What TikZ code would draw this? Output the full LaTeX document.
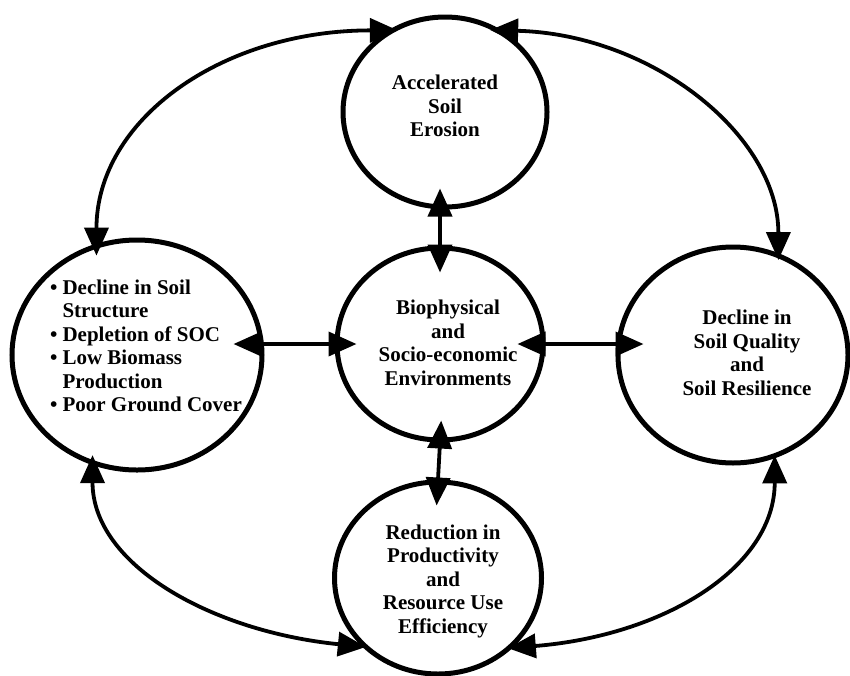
\documentclass[tikz,border=0pt]{standalone}
\usepackage{fontspec}
\setmainfont{Liberation Serif}
\usetikzlibrary{shapes.geometric,arrows.meta}
\begin{document}
\begin{tikzpicture}[x=1pt,y=-1pt,
  ring/.style={ellipse,draw,line width=5pt,inner sep=0pt},
  lbl/.style={align=center,inner sep=0pt,font=\fontsize{21}{23.5}\selectfont\bfseries},
  dbl/.style={>={Triangle[length=28pt,width=24pt]},<->,line width=3.8pt},
]
\useasboundingbox (0,0) rectangle (850,675);
% circles
\node[ring,minimum width=204pt,minimum height=190pt] (erosion) at (445,112) {};
\node[ring,minimum width=250pt,minimum height=230pt] (left) at (137,355) {};
\node[ring,minimum width=206pt,minimum height=192pt] (env) at (440,344) {};
\node[ring,minimum width=230pt,minimum height=216pt] (right) at (733,355) {};
\node[ring,minimum width=207pt,minimum height=192pt] (bottom) at (438,578) {};
% texts
\node[lbl] (erosionT) at (445,106) {Accelerated\\Soil\\Erosion};
\node[lbl] (envT) at (448,343) {Biophysical\\and\\Socio-economic\\Environments};
\node[lbl] (rightT) at (747,353) {Decline in\\Soil Quality\\and\\Soil Resilience};
\node[lbl] (bottomT) at (443,581) {Reduction in\\Productivity\\and\\Resource Use\\Efficiency};
\node[lbl,anchor=west,align=left] (leftT) at (50,348.5) {\begin{tabular}{@{}l@{\hspace{5pt}}l@{}}•&Decline in Soil\\&Structure\\•&Depletion of SOC\\•&Low Biomass\\&Production\\•&Poor Ground Cover\end{tabular}};
% straight connectors
\draw[dbl,shorten <=-21pt,shorten >=-27pt] (env.north |- erosion.south) -- (env.north);
\draw[dbl,shorten <=-31pt,shorten >=-22pt] (left.east |- env.west) -- (env.west);
\draw[dbl,shorten <=-28pt,shorten >=-28pt] (env.east) -- (right.west |- env.east);
\draw[dbl,shorten <=-22pt,shorten >=-26pt] (env.south) -- (bottom.north);
% curved connectors
\draw[dbl,shorten <=-12pt,shorten >=-10pt] (left.110) .. controls +(0,-124) and +(-166,0) .. (erosion.125);
\draw[dbl,shorten <=-12pt,shorten >=-7pt] (erosion.55) .. controls +(151,4) and +(0,-117) .. (right.66);
\draw[dbl,shorten <=-10pt,shorten >=-4pt] (left.248) .. controls +(0,100) and +(-150,-15) .. (bottom.222);
\draw[dbl,shorten <=-3pt,shorten >=-5pt] (right.292) .. controls +(0,110) and +(150,-12) .. (bottom.317);
\end{tikzpicture}
\end{document}
